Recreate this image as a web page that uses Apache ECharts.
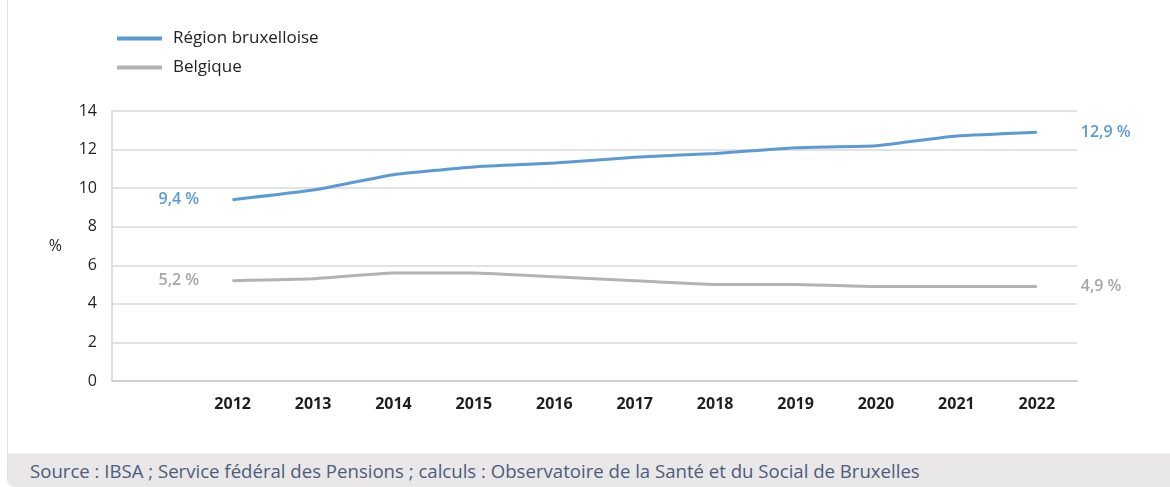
<!DOCTYPE html>
<html>
<head>
<meta charset="utf-8">
<script src="https://cdn.jsdelivr.net/npm/echarts@6/dist/echarts.min.js"></script>
<style>
	html, body { margin: 0; padding: 0; background: #fff; }
	#wrap { position: relative; width: 1170px; height: 487px; overflow: hidden; }
	#frame { position: absolute; left: 7px; top: -10px; width: 1180px; height: 497px; border-left: 1.5px solid #e2e2e2; border-bottom-left-radius: 8px; box-sizing: border-box; }
	#chart { position: absolute; left: 0; top: 0; width: 1170px; height: 453px; }
	#foot { position: absolute; left: 8px; top: 453px; width: 1170px; height: 34px; background: #e9e7e8; border-bottom-left-radius: 8px; border-top: 1px solid #f2f2f2; box-sizing: border-box; }
	#foot span { position: absolute; left: 22px; top: 4px; font-family: "Open Sans", "Noto Sans", sans-serif; font-size: 18.6px; color: #4b5d7d; white-space: nowrap; }
</style>
</head>
<body>
<div id="wrap">
	<div id="frame"></div>
	<div id="chart"></div>
	<div id="foot"><span>Source : IBSA ; Service fédéral des Pensions ; calculs : Observatoire de la Santé et du Social de Bruxelles</span></div>
</div>
<script>
	// premier emplacement vide : il laisse la place aux étiquettes de départ
	let years = ['', '2012', '2013', '2014', '2015', '2016', '2017', '2018', '2019', '2020', '2021', '2022'];
	let bxl = [null, 9.4, 9.9, 10.7, 11.1, 11.3, 11.6, 11.8, 12.1, 12.2, 12.7, 12.9];
	let bel = [null, 5.2, 5.3, 5.6, 5.6, 5.4, 5.2, 5.0, 5.0, 4.9, 4.9, 4.9];
	let names = ['Région bruxelloise', 'Belgique'];

	let font = '"Open Sans", sans-serif';
	let blue = '#5b9bd5';
	let grey = '#b3b3b3';

	function fmt(v) {
		return String(v.toFixed(1)).replace('.', ',') + ' %';
	}

	// étiquette sur le premier point réel (2012)
	function withStart(arr, color) {
		return arr.map(function(v, i) {
			if (i == 1) {
				return {
					value: v,
					label: {
						show: true,
						position: 'left',
						distance: 33,
						color: color,
						fontFamily: font,
						fontSize: 16,
						fontWeight: 600,
						formatter: function(p) { return fmt(p.value); }
					}
				};
			}
			return v;
		});
	}

	let chart = echarts.init(document.getElementById('chart'));
	let option = {
		animation: false,
		legend: {
			orient: 'vertical',
			left: 112,
			top: 25,
			itemWidth: 45,
			itemHeight: 4,
			itemGap: 12,
			icon: 'rect',
			data: names,
			textStyle: {
				fontFamily: font,
				fontSize: 17,
				color: '#222',
				padding: [0, 0, 0, 6]
			}
		},
		grid: {
			left: 112,
			right: 93,
			top: 111,
			bottom: 72
		},
		xAxis: {
			type: 'category',
			data: years,
			boundaryGap: true,
			axisTick: { show: false },
			axisLine: { lineStyle: { color: '#cfcfcf', width: 2 } },
			axisLabel: {
				margin: 15,
				fontFamily: font,
				fontSize: 16,
				fontWeight: 'bold',
				color: '#1f1f1f'
			},
			splitLine: { show: false }
		},
		yAxis: {
			type: 'value',
			min: 0,
			max: 14,
			interval: 2,
			name: '%',
			nameLocation: 'middle',
			nameRotate: 0,
			nameGap: 50,
			nameTextStyle: {
				fontFamily: font,
				fontSize: 16,
				color: '#1f1f1f',
				padding: [6, 0, 0, 0]
			},
			axisLine: { show: true, lineStyle: { color: '#d6d6d6', width: 1.5 } },
			axisTick: { show: false },
			axisLabel: {
				margin: 15,
				fontFamily: font,
				fontSize: 16,
				color: '#1f1f1f'
			},
			splitLine: { lineStyle: { color: '#d9d9d9', width: 1.5 } }
		},
		series: [{
			name: names[0],
			type: 'line',
			data: withStart(bxl, blue),
			symbol: 'circle',
			symbolSize: 1,
			smooth: 0.15,
			color: blue,
			lineStyle: { width: 3, color: blue },
			endLabel: {
				show: true,
				distance: 44,
				color: blue,
				fontFamily: font,
				fontSize: 16,
				fontWeight: 600,
				formatter: function(p) { return fmt(p.value); }
			}
		}, {
			name: names[1],
			type: 'line',
			data: withStart(bel, '#a6a6a6'),
			symbol: 'circle',
			symbolSize: 1,
			smooth: 0.15,
			color: grey,
			lineStyle: { width: 3, color: grey },
			endLabel: {
				show: true,
				distance: 44,
				color: '#a6a6a6',
				fontFamily: font,
				fontSize: 16,
				fontWeight: 600,
				formatter: function(p) { return fmt(p.value); }
			}
		}]
	};
	chart.setOption(option);
</script>
</body>
</html>
